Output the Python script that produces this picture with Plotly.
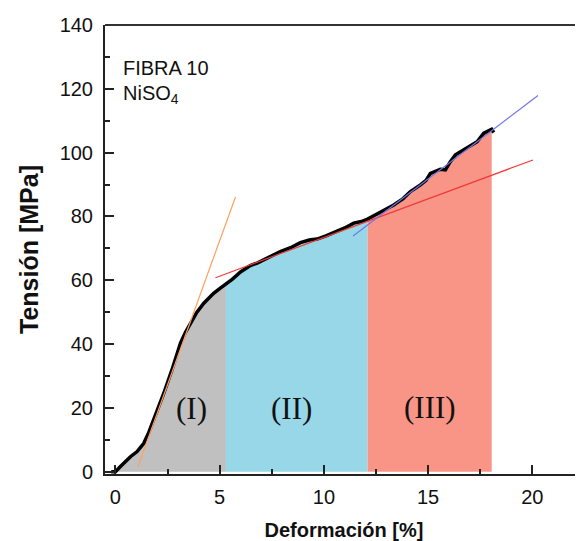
import plotly.graph_objects as go

# Stress-strain curve (Deformación [%], Tensión [MPa])
strain = [-0.2, 0.0, 0.24, 0.72, 1.04, 1.36, 1.6, 1.84, 2.08, 2.32, 2.71, 3.12, 3.36, 3.6, 3.9,
          4.24, 4.5, 4.71, 5.0, 5.3, 5.6, 6.0, 6.47, 6.8, 7.11, 7.5, 7.91, 8.4, 8.87, 9.3,
          9.67, 10.1, 10.63, 11.0, 11.43, 11.8, 12.1, 12.5, 12.87, 13.35, 13.8, 14.15, 14.63,
          14.9, 15.11, 15.4, 15.59, 15.83, 16.05, 16.31, 16.6, 16.87, 17.1, 17.35, 17.67,
          17.9, 18.05, 18.15]
stress = [0.0, 0.0, 1.6, 4.7, 6.3, 8.9, 12.3, 16.2, 20.3, 24.6, 31.9, 40.3, 43.7, 46.5, 49.9,
          52.8, 54.6, 55.9, 57.4, 58.8, 60.3, 62.6, 64.6, 65.4, 66.4, 67.8, 69.0, 70.2, 71.8,
          72.6, 72.9, 73.9, 75.2, 76.4, 77.9, 78.4, 79.2, 80.6, 82.0, 83.6, 85.6, 87.8, 89.9,
          91.3, 93.5, 94.3, 94.8, 94.6, 97.0, 99.3, 100.4, 101.4, 102.3, 103.4, 106.1,
          107.0, 107.3, 106.3]

# Region boundaries (strain values)
region_bounds = [-0.2, 5.3, 12.1, 18.05]
region_colors = ["#c0c0c0", "#97d7e8", "#f99587"]
region_labels = ["(I)", "(II)", "(III)"]
region_label_x = [3.67, 8.44, 15.08]
region_label_y = [19.8, 19.8, 20.2]

# Linear fits
fit_orange_x = [1.07, 5.76]
fit_orange_y = [1.4, 86.1]
fit_red_x = [4.8, 20.03]
fit_red_y = [60.8, 97.7]
fit_blue_x = [11.4, 20.27]
fit_blue_y = [73.9, 117.9]

x_ticks = [0, 5, 10, 15, 20]
y_ticks = [0, 20, 40, 60, 80, 100, 120, 140]

fig = go.Figure()

for i in range(3):
    lo, hi = region_bounds[i], region_bounds[i + 1]
    xs = [x for x in strain if lo <= x <= hi]
    ys = [y for x, y in zip(strain, stress) if lo <= x <= hi]
    fig.add_trace(go.Scatter(x=xs, y=ys, mode="lines", fill="tozeroy",
                             fillcolor=region_colors[i], line=dict(width=0),
                             hoverinfo="skip", showlegend=False))

fig.add_trace(go.Scatter(x=strain, y=stress, mode="lines",
                         line=dict(color="black", width=3.5), showlegend=False))
fig.add_trace(go.Scatter(x=fit_orange_x, y=fit_orange_y, mode="lines",
                         line=dict(color="#ffa060", width=1.2), showlegend=False))
fig.add_trace(go.Scatter(x=fit_red_x, y=fit_red_y, mode="lines",
                         line=dict(color="#f03a3a", width=1.2), showlegend=False))
fig.add_trace(go.Scatter(x=fit_blue_x, y=fit_blue_y, mode="lines",
                         line=dict(color="#6f78e6", width=1.2), showlegend=False))

for lbl, lx, ly in zip(region_labels, region_label_x, region_label_y):
    fig.add_annotation(x=lx, y=ly, text=lbl, showarrow=False,
                       font=dict(family="Liberation Serif", size=31, color="#111"))

fig.add_annotation(x=0.034, y=0.905, xref="paper", yref="paper", xanchor="left",
                   yanchor="middle", text="FIBRA 10", showarrow=False,
                   font=dict(family="Liberation Sans", size=20, color="#111"))
fig.add_annotation(x=0.034, y=0.845, xref="paper", yref="paper", xanchor="left",
                   yanchor="middle", text="NiSO<sub>4</sub>", showarrow=False,
                   font=dict(family="Liberation Sans", size=20, color="#111"))

# top frame line
fig.add_shape(type="line", xref="paper", yref="paper", x0=0, x1=1, y0=1, y1=1,
              line=dict(color="#333", width=2))

fig.update_layout(
    width=575, height=533,
    margin=dict(l=97, r=0, t=17, b=67),
    plot_bgcolor="white", paper_bgcolor="white",
    font=dict(family="Liberation Sans", size=20, color="#111"),
    xaxis=dict(range=[-0.5, 22.43], tickmode="array", tickvals=x_ticks,
               ticks="inside", ticklen=9, tickwidth=1.5, tickcolor="#222",
               minor=dict(ticks="inside", ticklen=5, dtick=2.5, tick0=0, tickcolor="#222", tickwidth=1.5),
               showline=True, linecolor="#222", linewidth=2, showgrid=False, zeroline=False,
               ticklabelstandoff=4,
               title=dict(text="<b>Deformación [%]</b>", font=dict(size=20), standoff=18),
               tickfont=dict(size=20)),
    yaxis=dict(range=[-0.72, 140], tickmode="array", tickvals=y_ticks,
               ticks="inside", ticklen=9, tickwidth=1.5, tickcolor="#222",
               minor=dict(ticks="inside", ticklen=5, dtick=10, tick0=0, tickcolor="#222", tickwidth=1.5),
               showline=True, linecolor="#222", linewidth=2, showgrid=False, zeroline=False,
               ticklabelstandoff=6,
               title=dict(text="<b>Tensión [MPa]</b>", font=dict(size=25), standoff=14),
               tickfont=dict(size=20)),
)

fig.write_html("out.html")
